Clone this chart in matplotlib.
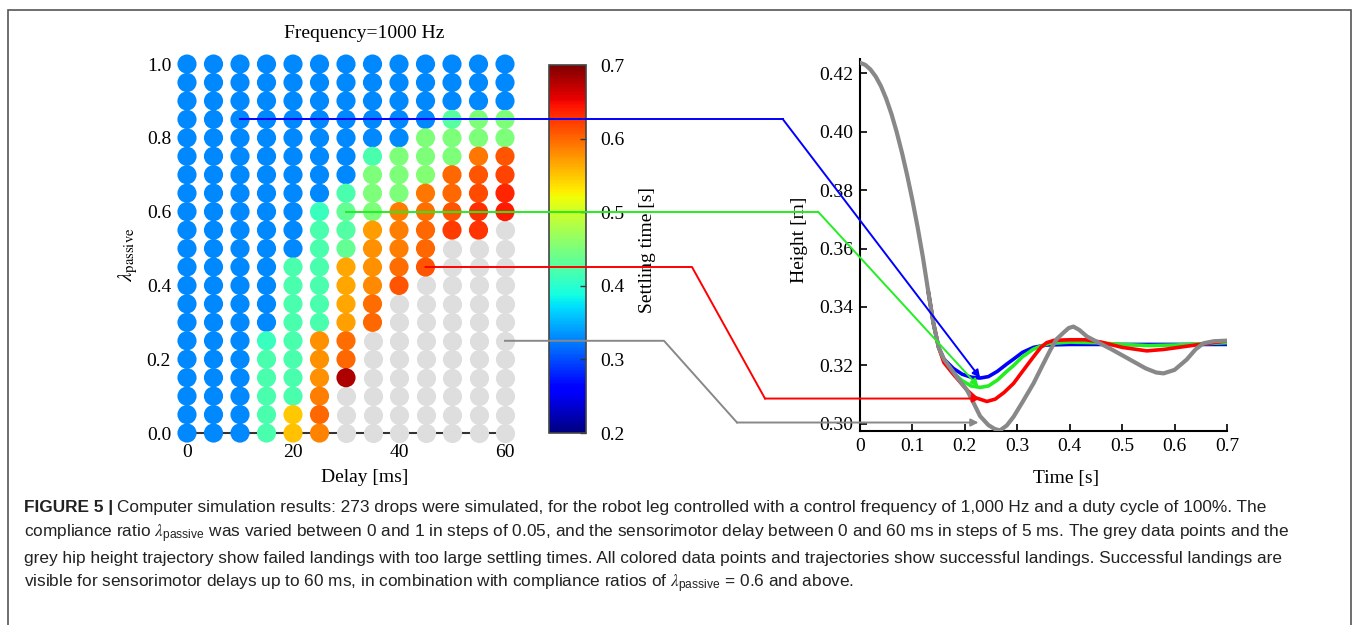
import numpy as np
import matplotlib
matplotlib.use("Agg")
import matplotlib.pyplot as plt
from matplotlib.lines import Line2D
from matplotlib.patches import Rectangle, FancyArrowPatch
from matplotlib import font_manager

plt.rcParams['font.family'] = ['Liberation Serif', 'DejaVu Serif']
plt.rcParams['mathtext.fontset'] = 'stix'

# grid of simulated drops
delays = [0, 5, 10, 15, 20, 25, 30, 35, 40, 45, 50, 55, 60]
lambdas = [1.0, 0.95, 0.9, 0.85, 0.8, 0.75, 0.7, 0.65, 0.6, 0.55, 0.5,
           0.45, 0.4, 0.35, 0.3, 0.25, 0.2, 0.15, 0.1, 0.05, 0.0]
B = 0.33
n = np.nan
# settling time [s], rows = lambdas (top to bottom), cols = delays; nan = failed
settling = [
    [B, B, B, B, B, B, B, B, B, B, B, B, B],
    [B, B, B, B, B, B, B, B, B, B, B, B, B],
    [B, B, B, B, B, B, B, B, B, B, B, B, B],
    [B, B, B, B, B, B, B, B, B, B, 0.427, 0.45, 0.45],
    [B, B, B, B, B, B, B, B, B, 0.45, 0.45, 0.45, 0.45],
    [B, B, B, B, B, B, B, 0.42, 0.45, 0.45, 0.45, 0.592, 0.61],
    [B, B, B, B, B, B, B, 0.45, 0.45, 0.455, 0.60, 0.61, 0.619],
    [B, B, B, B, B, B, 0.42, 0.45, 0.45, 0.592, 0.60, 0.615, 0.635],
    [B, B, B, B, B, 0.41, 0.435, 0.45, 0.587, 0.595, 0.61, 0.628, 0.64],
    [B, B, B, B, B, 0.42, 0.425, 0.572, 0.587, 0.60, 0.622, 0.626, n],
    [B, B, B, B, B, 0.42, 0.435, 0.578, 0.587, 0.60, n, n, n],
    [B, B, B, B, 0.42, 0.42, 0.567, 0.578, 0.598, 0.61, n, n, n],
    [B, B, B, B, 0.42, 0.42, 0.567, 0.582, 0.61, n, n, n, n],
    [B, B, B, B, 0.42, 0.42, 0.567, 0.598, n, n, n, n, n],
    [B, B, B, B, 0.42, 0.42, 0.57, 0.60, n, n, n, n, n],
    [B, B, B, 0.41, 0.42, 0.578, 0.598, n, n, n, n, n, n],
    [B, B, B, 0.42, 0.42, 0.578, 0.60, n, n, n, n, n, n],
    [B, B, B, 0.42, 0.42, 0.578, 0.68, n, n, n, n, n, n],
    [B, B, B, 0.42, 0.42, 0.587, n, n, n, n, n, n, n],
    [B, B, B, 0.42, 0.549, 0.60, n, n, n, n, n, n, n],
    [B, B, B, 0.42, 0.552, 0.585, n, n, n, n, n, n, n],
]

# hip height trajectories
t_grey = [0.0, 0.01, 0.02, 0.03, 0.04, 0.05, 0.06, 0.07, 0.08, 0.09, 0.10,
          0.11, 0.12, 0.13, 0.14, 0.15, 0.16, 0.175, 0.19, 0.204, 0.215,
          0.229, 0.245, 0.257, 0.267, 0.28, 0.293, 0.31, 0.331, 0.348, 0.363,
          0.375, 0.388, 0.398, 0.407, 0.418, 0.433, 0.452, 0.48, 0.516, 0.545,
          0.565, 0.579, 0.6, 0.623, 0.64, 0.655, 0.675, 0.7]
h_grey = [0.4235, 0.4228, 0.4212, 0.4188, 0.4155, 0.4112, 0.406, 0.3998,
          0.3928, 0.385, 0.3765, 0.3672, 0.357, 0.3455, 0.3345, 0.3262,
          0.3222, 0.3185, 0.3148, 0.3116, 0.3078, 0.3027, 0.2996, 0.2983,
          0.2978, 0.2995, 0.3025, 0.3075, 0.3139, 0.32, 0.3253, 0.329,
          0.3312, 0.3328, 0.3333, 0.3322, 0.3299, 0.3281, 0.3255, 0.3219,
          0.319, 0.3176, 0.3173, 0.3185, 0.322, 0.3255, 0.3276, 0.3283, 0.3285]
t_blue = [0.13, 0.14, 0.15, 0.16, 0.178, 0.195, 0.212, 0.229, 0.245, 0.262,
          0.28, 0.293, 0.31, 0.331, 0.356, 0.4, 0.5, 0.6, 0.7]
h_blue = [0.3455, 0.3345, 0.3262, 0.3222, 0.319, 0.317, 0.316, 0.3157, 0.3162,
          0.318, 0.3205, 0.3222, 0.3245, 0.3262, 0.327, 0.3272, 0.3272,
          0.3272, 0.3272]
t_green = [0.13, 0.14, 0.15, 0.16, 0.178, 0.195, 0.212, 0.229, 0.245, 0.262,
           0.28, 0.293, 0.31, 0.33, 0.343, 0.36, 0.4, 0.45, 0.5, 0.55, 0.6,
           0.65, 0.7]
h_green = [0.3455, 0.3345, 0.3262, 0.3215, 0.3175, 0.3148, 0.313, 0.3125,
           0.313, 0.315, 0.318, 0.32, 0.323, 0.3255, 0.3265, 0.3275, 0.328,
           0.3278, 0.3272, 0.3268, 0.327, 0.3274, 0.3278]
t_red = [0.13, 0.14, 0.15, 0.16, 0.178, 0.195, 0.204, 0.22, 0.242, 0.258,
         0.275, 0.293, 0.31, 0.331, 0.345, 0.356, 0.37, 0.4, 0.43, 0.46, 0.5,
         0.547, 0.58, 0.62, 0.66, 0.7]
h_red = [0.3455, 0.3345, 0.3262, 0.321, 0.317, 0.3135, 0.3116, 0.309, 0.3077,
         0.3085, 0.3108, 0.3139, 0.318, 0.323, 0.3262, 0.3278, 0.3286, 0.3288,
         0.3288, 0.328, 0.3262, 0.325, 0.3255, 0.3265, 0.3275, 0.3284]

# highlighted cases: (delay, lambda) -> arrow target (time, height)
hl_colors = ['#0000ff', '#22ee22', '#ff0000', '#888888']
hl_delay = [10, 30, 45, 60]
hl_lambda = [0.85, 0.6, 0.45, 0.25]
hl_target_t = [0.229, 0.226, 0.229, 0.226]
hl_target_h = [0.3158, 0.3128, 0.3087, 0.3005]

W, H = 1356, 625
fig = plt.figure(figsize=(W / 100, H / 100), dpi=100)

# ---- left: scatter grid
ax = fig.add_axes([171.1 / W, 1 - 447.8 / H, 349.8 / W, 398.5 / H])
dd, ll = np.meshgrid(delays, lambdas)
S = np.array(settling)
ok = ~np.isnan(S)
ax.scatter(dd[~ok], ll[~ok], s=190, color='#dedede', linewidths=0, zorder=3)
sc = ax.scatter(dd[ok], ll[ok], c=S[ok], cmap='jet', vmin=0.2, vmax=0.7,
                s=190, linewidths=0, zorder=3)
ax.set_xlim(-3, 63)
ax.set_ylim(-0.04, 1.04)
for s in ['top', 'right', 'left']:
    ax.spines[s].set_visible(False)
ax.spines['bottom'].set_position(('data', 0))
ax.spines['bottom'].set_bounds(0, 60)
ax.spines['bottom'].set_linewidth(1.5)
ax.spines['bottom'].set_color('#333333')
ax.set_xticks([0, 20, 40, 60])
ax.set_yticks([0, 0.2, 0.4, 0.6, 0.8, 1.0])
ax.set_yticklabels(['0.0', '0.2', '0.4', '0.6', '0.8', '1.0'])
ax.tick_params(axis='y', length=0, labelsize=14, pad=0)
ax.tick_params(axis='x', length=0, labelsize=14, pad=8)
fig.text(364 / W, 1 - 33 / H, 'Frequency=1000 Hz', ha='center', va='center', fontsize=14)
fig.text(365 / W, 1 - 478 / H, 'Delay [ms]', ha='center', va='center', fontsize=14)
fig.text(128 / W, 1 - 255 / H, r'$\lambda_{\mathrm{passive}}$', ha='center', va='center',
         rotation=90, fontsize=15)

# ---- colorbar
cax = fig.add_axes([549 / W, 1 - 433 / H, 37 / W, 368 / H])
cb = fig.colorbar(sc, cax=cax, ticks=[0.2, 0.3, 0.4, 0.5, 0.6, 0.7])
cb.ax.tick_params(direction='in', length=4, width=1, labelsize=14, pad=10, color='#333333')
cb.ax.set_yticklabels(['0.2', '0.3', '0.4', '0.5', '0.6', '0.7'])
cb.outline.set_edgecolor('#444444')
cb.outline.set_linewidth(1.2)
fig.text(648 / W, 1 - 250 / H, 'Settling time [s]', ha='center', va='center',
         rotation=90, fontsize=14)

# ---- right: trajectories
ax2 = fig.add_axes([860 / W, 1 - 431 / H, 367 / W, 372 / H])
ax2.plot(t_blue, h_blue, color='#0000ff', lw=2.6, zorder=3)
ax2.plot(t_green, h_green, color='#22ee22', lw=2.6, zorder=3)
ax2.plot(t_red, h_red, color='#ff0000', lw=2.6, zorder=3)
ax2.plot(t_grey, h_grey, color='#888888', lw=3, zorder=4)
ax2.set_xlim(0, 0.7)
ax2.set_ylim(0.2976, 0.4248)
for s in ['top', 'right']:
    ax2.spines[s].set_visible(False)
for s in ['left', 'bottom']:
    ax2.spines[s].set_linewidth(1.5)
ax2.set_xticks([0, 0.1, 0.2, 0.3, 0.4, 0.5, 0.6, 0.7])
ax2.set_xticklabels(['0', '0.1', '0.2', '0.3', '0.4', '0.5', '0.6', '0.7'])
ax2.set_yticks([0.30, 0.32, 0.34, 0.36, 0.38, 0.40, 0.42])
ax2.set_yticklabels(['0.30', '0.32', '0.34', '0.36', '0.38', '0.40', '0.42'])
ax2.tick_params(direction='in', length=5, width=1.2, labelsize=14, pad=5)
fig.text(1066 / W, 1 - 478 / H, 'Time [s]', ha='center', va='center', fontsize=14)
fig.text(800 / W, 1 - 240 / H, 'Height [m]', ha='center', va='center',
         rotation=90, fontsize=14)

# ---- connector lines from grid points to trajectories
inv = fig.transFigure.inverted()
corner1 = [783, 818, 692, 664]
corner2 = [None, None, 765, 737]
for i in range(4):
    p0 = inv.transform(ax.transData.transform((hl_delay[i], hl_lambda[i])))
    pe = inv.transform(ax2.transData.transform((hl_target_t[i], hl_target_h[i])))
    xs = [p0[0], corner1[i] / W]
    ys = [p0[1], p0[1]]
    if corner2[i] is not None:
        xs.append(corner2[i] / W)
        ys.append(pe[1])
    fig.add_artist(Line2D(xs, ys, color=hl_colors[i], lw=1.4, zorder=6,
                          transform=fig.transFigure))
    fig.add_artist(FancyArrowPatch(
        (xs[-1], ys[-1]), (pe[0], pe[1]), transform=fig.transFigure,
        arrowstyle='-|>', mutation_scale=11, color=hl_colors[i], lw=1.4,
        shrinkA=0, shrinkB=0, zorder=6))

# ---- caption
names = {f.name for f in font_manager.fontManager.ttflist}
cap_font = ['Liberation Sans Narrow'] if 'Liberation Sans Narrow' in names else ['Liberation Sans']
cap_font = cap_font + ['DejaVu Sans']
cap_size = 12.4
lam = r'$\lambda_{\mathregular{passive}}$'
lines = [
    'Computer simulation results: 273 drops were simulated, for the robot leg controlled with a control frequency of 1,000 Hz and a duty cycle of 100%. The',
    'compliance ratio ' + lam + ' was varied between 0 and 1 in steps of 0.05, and the sensorimotor delay between 0 and 60 ms in steps of 5 ms. The grey data points and the',
    'grey hip height trajectory show failed landings with too large settling times. All colored data points and trajectories show successful landings. Successful landings are',
    'visible for sensorimotor delays up to 60 ms, in combination with compliance ratios of ' + lam + ' = 0.6 and above.',
]
baselines = [512, 538, 563, 588]
renderer = fig.canvas.get_renderer()
head = fig.text(24 / W, 1 - baselines[0] / H, 'FIGURE 5 |', fontweight='bold', family=cap_font,
                fontsize=cap_size, va='baseline', color='#222222')
hw = head.get_window_extent(renderer=renderer).width
fig.text((24 + hw + 4) / W, 1 - baselines[0] / H, lines[0], family=cap_font, fontsize=cap_size,
         va='baseline', color='#222222')
for k in range(1, 4):
    fig.text(24 / W, 1 - baselines[k] / H, lines[k], family=cap_font, fontsize=cap_size,
             va='baseline', color='#222222')

fig.add_artist(Rectangle((8 / W, -0.01), (1351 - 8) / W, (H - 10) / H + 0.01,
                         fill=False, edgecolor='#555555', lw=1.2,
                         transform=fig.transFigure))

fig.savefig('out.png', dpi=100)
